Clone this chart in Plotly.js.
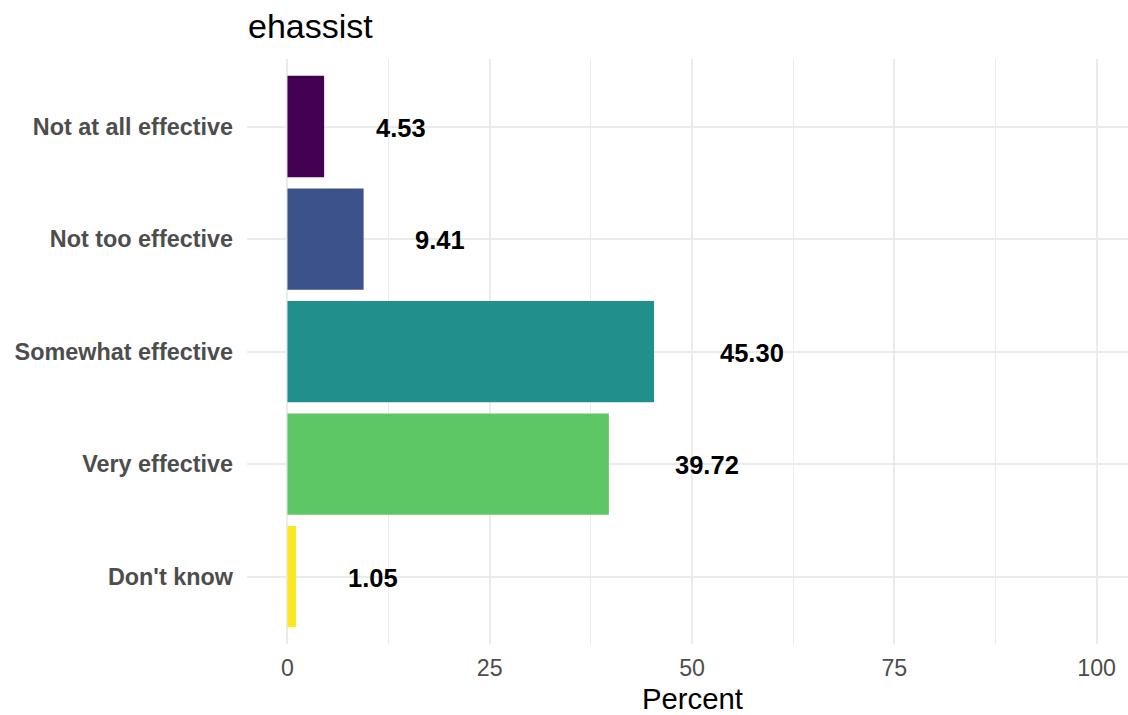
<!DOCTYPE html>
<html>
<head>
<meta charset="utf-8">
<script src="https://cdn.plot.ly/plotly-3.0.1.min.js"></script>
<style>html,body{margin:0;padding:0;background:#fff;}#chart{width:1128px;height:715px;}</style>
</head>
<body>
<div id="chart"></div>
<script>
const categories = ["Not at all effective", "Not too effective", "Somewhat effective", "Very effective", "Don't know"];
const percents = [4.53, 9.41, 45.30, 39.72, 1.05];
const barColors = ["#440154", "#3B528B", "#21908C", "#5DC863", "#FDE725"];
const xTicks = [0, 25, 50, 75, 100];
const chartTitle = "ehassist";
const xTitle = "Percent";

const FONT = "Liberation Sans, Arial, sans-serif";
const labelFontSize = 25.5;
const M = { l: 247, r: 0, t: 59, b: 71 };
const W = 1128, H = 715;

function textWidth(txt, size, weight) {
  const c = document.createElement("canvas").getContext("2d");
  c.font = weight + " " + size + "px 'Liberation Sans', Arial, sans-serif";
  return c.measureText(txt).width;
}

const labels = percents.map(v => v.toFixed(2));

const trace = {
  type: "bar",
  orientation: "h",
  x: percents,
  y: categories,
  width: 0.9,
  marker: { color: barColors, line: { width: 0 } },
  hoverinfo: "x+y",
  showlegend: false
};

const annotations = labels.map((t, i) => ({
  x: percents[i],
  y: categories[i],
  xref: "x",
  yref: "y",
  text: "<b>" + t + "</b>",
  showarrow: false,
  xanchor: "left",
  yanchor: "middle",
  xshift: textWidth(t, labelFontSize, "bold"),
  yshift: -1,
  font: { family: FONT, size: labelFontSize, color: "#000000" }
}));

const plotW = W - M.l - M.r, plotH = H - M.t - M.b;
annotations.push({
  x: (692 - M.l) / plotW,
  y: (H - M.b - 698) / plotH,
  xref: "paper",
  yref: "paper",
  xanchor: "center",
  yanchor: "middle",
  showarrow: false,
  borderpad: 0,
  text: xTitle,
  font: { family: FONT, size: 29.3, color: "#000000" }
});

const layout = {
  width: W,
  height: H,
  paper_bgcolor: "#ffffff",
  plot_bgcolor: "#ffffff",
  margin: { l: M.l, r: M.r, t: M.t, b: M.b, pad: 0 },
  font: { family: FONT },
  title: {
    text: chartTitle,
    x: 248 / W,
    xanchor: "left",
    xref: "container",
    y: 1 - 26 / H,
    yanchor: "middle",
    yref: "container",
    font: { family: FONT, size: 34, color: "#000000" }
  },
  xaxis: {
    range: [-5, plotW / 8.092 - 5],
    tickvals: xTicks,
    ticktext: xTicks.map(String),
    showgrid: true,
    gridcolor: "#EBEBEB",
    gridwidth: 2,
    minor: { dtick: 12.5, tick0: 0, showgrid: true, gridcolor: "#EBEBEB", gridwidth: 1 },
    zeroline: false,
    showline: false,
    ticks: "",
    ticklabelstandoff: 8,
    tickfont: { family: FONT, size: 23.2, color: "#4D4D4D" },
    fixedrange: true
  },
  yaxis: {
    type: "category",
    categoryorder: "array",
    categoryarray: categories,
    range: [4.6, -0.6],
    showgrid: true,
    gridcolor: "#EBEBEB",
    gridwidth: 2,
    zeroline: false,
    showline: false,
    ticks: "",
    ticklabelstandoff: 13,
    tickfont: { family: FONT, size: 23.4, color: "#4D4D4D", weight: "bold" },
    fixedrange: true
  },
  annotations: annotations,
  bargap: 0.1
};

Plotly.newPlot("chart", [trace], layout, { displayModeBar: false, staticPlot: true });
</script>
</body>
</html>
